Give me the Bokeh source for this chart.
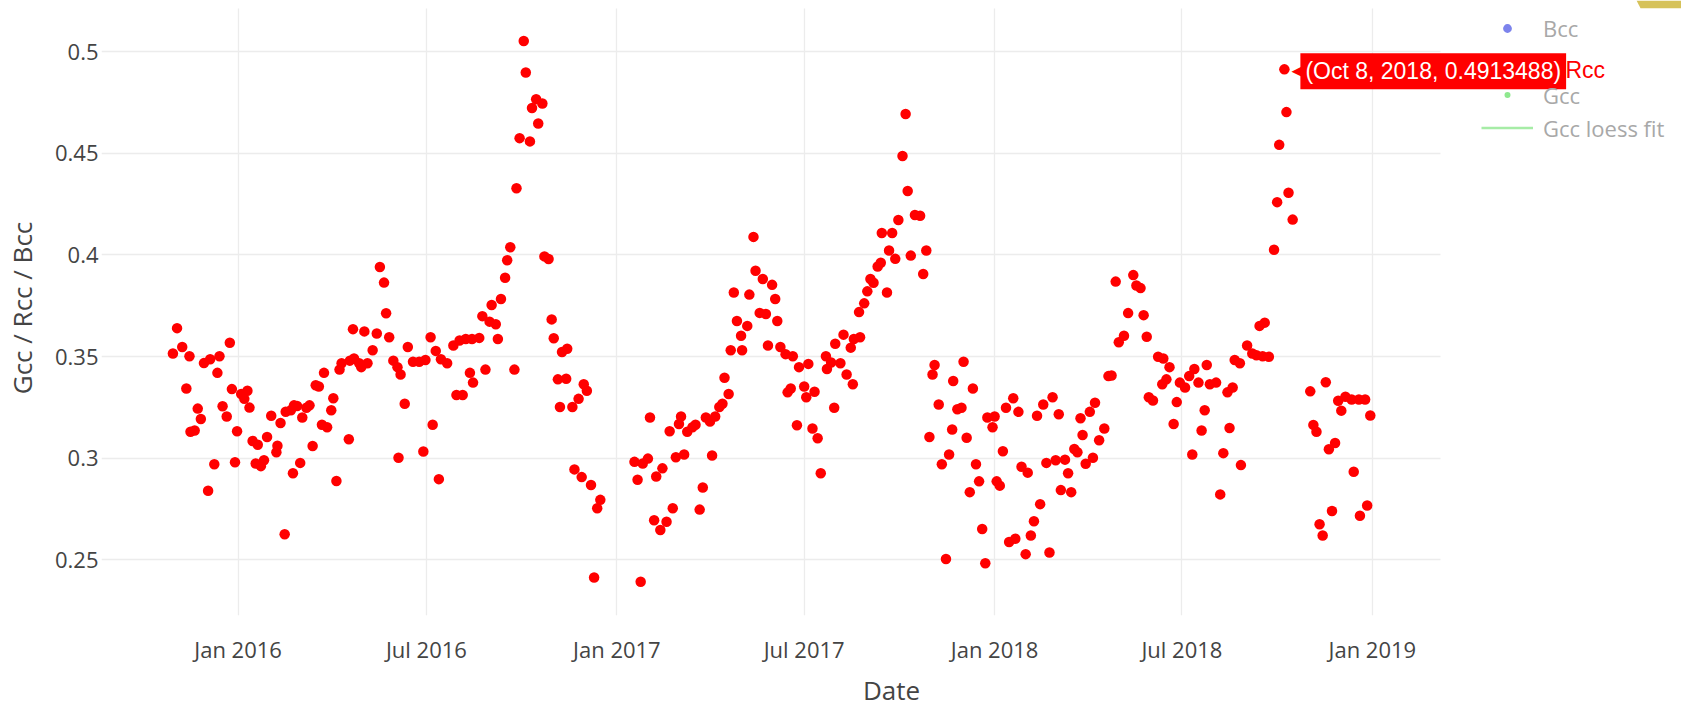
import pandas as pd
from bokeh.plotting import figure
from bokeh.models import (ColumnDataSource, FixedTicker, MonthsTicker, DatetimeTickFormatter,
                          Legend, LegendItem, Label, PolyAnnotation)
from bokeh.embed import file_html
from bokeh.resources import INLINE

# Rcc observation dates and values
dates = [
    "2015-10-30", "2015-11-03", "2015-11-08", "2015-11-12", "2015-11-15", "2015-11-16",
    "2015-11-20", "2015-11-23", "2015-11-26", "2015-11-29", "2015-12-03", "2015-12-05",
    "2015-12-09", "2015-12-12", "2015-12-14", "2015-12-17", "2015-12-21", "2015-12-24",
    "2015-12-26", "2015-12-29", "2015-12-31",
    "2016-01-04", "2016-01-07", "2016-01-10", "2016-01-12", "2016-01-15", "2016-01-18",
    "2016-01-20", "2016-01-23", "2016-01-26", "2016-01-29", "2016-02-02", "2016-02-07",
    "2016-02-08", "2016-02-11", "2016-02-15", "2016-02-16", "2016-02-21", "2016-02-23",
    "2016-02-24", "2016-02-27", "2016-03-01", "2016-03-03", "2016-03-07", "2016-03-10",
    "2016-03-13", "2016-03-16", "2016-03-19", "2016-03-22", "2016-03-24", "2016-03-27",
    "2016-03-31", "2016-04-02", "2016-04-05", "2016-04-08", "2016-04-10", "2016-04-17",
    "2016-04-18", "2016-04-21", "2016-04-22", "2016-04-27", "2016-04-29", "2016-05-02",
    "2016-05-05", "2016-05-10", "2016-05-14", "2016-05-17", "2016-05-21", "2016-05-23",
    "2016-05-26", "2016-05-30", "2016-06-03", "2016-06-04", "2016-06-06", "2016-06-10",
    "2016-06-13", "2016-06-18", "2016-06-24", "2016-06-28", "2016-06-30", "2016-07-05",
    "2016-07-07", "2016-07-10", "2016-07-13", "2016-07-15", "2016-07-21", "2016-07-27",
    "2016-07-30", "2016-08-02", "2016-08-05", "2016-08-08", "2016-08-12", "2016-08-14",
    "2016-08-15", "2016-08-21", "2016-08-24", "2016-08-27", "2016-08-31", "2016-09-02",
    "2016-09-06", "2016-09-08", "2016-09-11", "2016-09-15", "2016-09-17", "2016-09-20",
    "2016-09-24", "2016-09-26", "2016-09-29", "2016-10-03", "2016-10-05", "2016-10-09",
    "2016-10-11", "2016-10-15", "2016-10-17", "2016-10-21", "2016-10-23", "2016-10-27",
    "2016-10-30", "2016-11-01", "2016-11-05", "2016-11-07", "2016-11-09", "2016-11-13",
    "2016-11-14", "2016-11-19", "2016-11-21", "2016-11-25", "2016-11-28", "2016-11-30",
    "2016-12-03", "2016-12-07", "2016-12-10", "2016-12-13", "2016-12-16",
    "2017-01-18", "2017-01-21", "2017-01-24", "2017-01-26", "2017-01-31", "2017-02-02",
    "2017-02-06", "2017-02-08", "2017-02-12", "2017-02-14", "2017-02-18", "2017-02-21",
    "2017-02-24", "2017-02-27", "2017-03-02", "2017-03-04", "2017-03-07", "2017-03-10",
    "2017-03-15", "2017-03-18", "2017-03-22", "2017-03-25", "2017-03-28", "2017-04-01",
    "2017-04-03", "2017-04-06", "2017-04-10", "2017-04-13", "2017-04-15", "2017-04-19",
    "2017-04-21", "2017-04-24", "2017-04-27", "2017-05-01", "2017-05-02", "2017-05-07",
    "2017-05-09", "2017-05-13", "2017-05-15", "2017-05-19", "2017-05-22", "2017-05-25",
    "2017-05-27", "2017-05-31", "2017-06-03", "2017-06-05", "2017-06-08", "2017-06-13",
    "2017-06-15", "2017-06-18", "2017-06-20", "2017-06-24", "2017-06-26", "2017-07-01",
    "2017-07-03", "2017-07-05", "2017-07-09", "2017-07-11", "2017-07-14", "2017-07-17",
    "2017-07-22", "2017-07-23", "2017-07-27", "2017-07-30", "2017-07-31", "2017-08-05",
    "2017-08-08", "2017-08-11", "2017-08-15", "2017-08-17", "2017-08-18", "2017-08-23",
    "2017-08-24", "2017-08-28", "2017-08-31", "2017-09-03", "2017-09-06", "2017-09-10",
    "2017-09-13", "2017-09-14", "2017-09-19", "2017-09-21", "2017-09-24", "2017-09-27",
    "2017-09-30", "2017-10-04", "2017-10-07", "2017-10-09", "2017-10-12", "2017-10-16",
    "2017-10-21", "2017-10-24", "2017-10-27", "2017-10-30", "2017-11-02", "2017-11-04",
    "2017-11-08", "2017-11-11", "2017-11-15", "2017-11-18", "2017-11-21", "2017-11-22",
    "2017-11-26", "2017-11-30", "2017-12-02", "2017-12-05", "2017-12-08", "2017-12-11",
    "2017-12-14", "2017-12-17", "2017-12-20", "2017-12-23", "2017-12-25", "2017-12-30",
    "2018-01-01", "2018-01-03", "2018-01-06", "2018-01-09", "2018-01-12", "2018-01-15",
    "2018-01-19", "2018-01-21", "2018-01-24", "2018-01-27", "2018-01-31", "2018-02-02",
    "2018-02-05", "2018-02-08", "2018-02-11", "2018-02-14", "2018-02-17", "2018-02-20",
    "2018-02-23", "2018-02-26", "2018-03-01", "2018-03-04", "2018-03-06", "2018-03-10",
    "2018-03-13", "2018-03-16", "2018-03-19", "2018-03-22", "2018-03-25", "2018-03-27",
    "2018-03-30", "2018-04-03", "2018-04-06", "2018-04-08", "2018-04-12", "2018-04-17",
    "2018-04-21", "2018-04-24", "2018-04-28", "2018-05-01", "2018-05-06", "2018-05-10",
    "2018-05-15", "2018-05-18", "2018-05-22", "2018-05-25", "2018-05-28", "2018-05-30",
    "2018-06-03", "2018-06-08", "2018-06-12", "2018-06-13", "2018-06-16", "2018-06-19",
    "2018-06-23", "2018-06-26", "2018-06-29", "2018-07-04", "2018-07-08", "2018-07-11",
    "2018-07-13", "2018-07-17", "2018-07-20", "2018-07-23", "2018-07-25", "2018-07-28",
    "2018-08-03", "2018-08-07", "2018-08-10", "2018-08-14", "2018-08-16", "2018-08-19",
    "2018-08-21", "2018-08-26", "2018-08-27", "2018-09-02", "2018-09-07", "2018-09-11",
    "2018-09-14", "2018-09-17", "2018-09-19", "2018-09-23", "2018-09-28", "2018-10-01",
    "2018-10-03", "2018-10-08", "2018-10-10", "2018-10-12", "2018-10-16",
    "2018-11-02", "2018-11-05", "2018-11-08", "2018-11-11", "2018-11-14", "2018-11-17",
    "2018-11-20", "2018-11-23", "2018-11-26", "2018-11-29", "2018-12-02", "2018-12-06",
    "2018-12-12", "2018-12-14", "2018-12-19", "2018-12-20", "2018-12-25", "2018-12-27",
    "2018-12-30",
]

rcc = [
    0.3515, 0.3640, 0.3547, 0.3343, 0.3502, 0.3130,
    0.3136, 0.3244, 0.3193, 0.3468, 0.2840, 0.3487,
    0.2970, 0.3420, 0.3502, 0.3256, 0.3205, 0.3568,
    0.3340, 0.2980, 0.3133,
    0.3316, 0.3292, 0.3332, 0.3249, 0.3085, 0.2974,
    0.3066, 0.2961, 0.2990, 0.3104, 0.3209, 0.3029,
    0.3061, 0.3173, 0.2626, 0.3229, 0.3236, 0.2926,
    0.3260, 0.3257, 0.2977, 0.3200, 0.3248, 0.3260,
    0.3060, 0.3359, 0.3353, 0.3165, 0.3420, 0.3152,
    0.3236, 0.3295, 0.2888, 0.3436, 0.3467, 0.3093,
    0.3480, 0.3635, 0.3491, 0.3467, 0.3448, 0.3624,
    0.3467, 0.3531, 0.3614, 0.3941, 0.3864, 0.3713,
    0.3595, 0.3480, 0.3448, 0.3002, 0.3412, 0.3268,
    0.3547, 0.3475, 0.3475, 0.3033, 0.3483, 0.3595,
    0.3165, 0.3528, 0.2897, 0.3487, 0.3467, 0.3555,
    0.3311, 0.3579, 0.3311, 0.3587, 0.3420, 0.3587,
    0.3372, 0.3592, 0.3699, 0.3436, 0.3672, 0.3754,
    0.3659, 0.3587, 0.3783, 0.3888, 0.3974, 0.4038,
    0.3436, 0.4328, 0.4575, 0.5053, 0.4898, 0.4559,
    0.4723, 0.4766, 0.4647, 0.4745, 0.3993, 0.3980,
    0.3683, 0.3590, 0.3388, 0.3252, 0.3523, 0.3391,
    0.3539, 0.3252, 0.2945, 0.3292, 0.2907, 0.3364,
    0.3332, 0.2868, 0.2413, 0.2754, 0.2795,
    0.2982, 0.2894, 0.2392, 0.2974, 0.2998, 0.3200,
    0.2695, 0.2910, 0.2647, 0.2950, 0.2687, 0.3133,
    0.2754, 0.3005, 0.3168, 0.3205, 0.3018, 0.3130,
    0.3152, 0.3165, 0.2747, 0.2856, 0.3200, 0.3181,
    0.3013, 0.3205, 0.3252, 0.3268, 0.3396, 0.3316,
    0.3531, 0.3815, 0.3675, 0.3603, 0.3531, 0.3651,
    0.3805, 0.4089, 0.3922, 0.3715, 0.3882, 0.3710,
    0.3555, 0.3853, 0.3783, 0.3675, 0.3547, 0.3512,
    0.3324, 0.3343, 0.3502, 0.3162, 0.3448, 0.3353,
    0.3300, 0.3464, 0.3146, 0.3327, 0.3098, 0.2926,
    0.3502, 0.3439, 0.3471, 0.3248, 0.3563, 0.3467,
    0.3608, 0.3412, 0.3544, 0.3364, 0.3587, 0.3719,
    0.3595, 0.3762, 0.3821, 0.3882, 0.3863, 0.3943,
    0.3962, 0.4108, 0.3815, 0.4022, 0.4108, 0.3981,
    0.4172, 0.4487, 0.4694, 0.4315, 0.3997, 0.4197,
    0.4193, 0.3906, 0.4022, 0.3104, 0.3412, 0.3459,
    0.3264, 0.2970, 0.2504, 0.3018, 0.3141, 0.3380,
    0.3241, 0.3248, 0.3475, 0.3101, 0.2833, 0.3343,
    0.2970, 0.2886, 0.2652, 0.2483, 0.3200, 0.3152,
    0.3205, 0.2886, 0.2865, 0.3034, 0.3248, 0.2588,
    0.3295, 0.2604, 0.3228, 0.2958, 0.2528, 0.2929,
    0.2620, 0.2690, 0.3209, 0.2774, 0.3264, 0.2977,
    0.2536, 0.3300, 0.2990, 0.3216, 0.2843, 0.2993,
    0.2926, 0.2833, 0.3045, 0.3029, 0.3197, 0.3114,
    0.2973, 0.3228, 0.3002, 0.3273, 0.3088, 0.3146,
    0.3404, 0.3407, 0.3869, 0.3571, 0.3603, 0.3714,
    0.3901, 0.3850, 0.3837, 0.3704, 0.3598, 0.3300,
    0.3284, 0.3499, 0.3364, 0.3491, 0.3388, 0.3448,
    0.3168, 0.3276, 0.3372, 0.3348, 0.3404, 0.3018,
    0.3439, 0.3372, 0.3136, 0.3236, 0.3459, 0.3364,
    0.3372, 0.2822, 0.3025, 0.3324, 0.3149, 0.3348,
    0.3483, 0.3467, 0.2966, 0.3555, 0.3515, 0.3507,
    0.3651, 0.3502, 0.3667, 0.3499, 0.4026, 0.4260,
    0.4542, 0.4913488, 0.4703, 0.4306, 0.4174,
    0.3329, 0.3164, 0.3130, 0.2675, 0.2620, 0.3374,
    0.3044, 0.2740, 0.3075, 0.3283, 0.3234, 0.3302,
    0.3289, 0.2933, 0.3289, 0.2717, 0.3289, 0.2767,
    0.3210,
]

y_ticks = [0.25, 0.3, 0.35, 0.4, 0.45, 0.5]
y_tick_labels = ["0.25", "0.3", "0.35", "0.4", "0.45", "0.5"]
x_span = ("2015-08-22", "2019-03-08")
y_span = (0.2226, 0.5214)

hover_date = "2018-10-08"
hover_name = "Rcc"

TEXT = "#444444"
GRID = "#ececec"
NAN = float("nan")

# page geometry: the gridded area sits at x 100..1440, y 8..633; the drawing
# area is stretched to the right and top edges so the legend and readout fit
W, H = 1681, 710
GRID_L, GRID_R, GRID_T, GRID_B = 100, 1440, 8, 633

x0, x1 = pd.Timestamp(x_span[0]), pd.Timestamp(x_span[1])
x_far = x0 + (x1 - x0) * ((W - GRID_L) / (GRID_R - GRID_L))
y_top = y_span[1] + (y_span[1] - y_span[0]) * GRID_T / (GRID_B - GRID_T)


def page_to_data(px, py):
    """Convert a page pixel position to data coordinates (x in epoch ms)."""
    fx = (px - GRID_L) / (GRID_R - GRID_L)
    fy = (py - GRID_T) / (GRID_B - GRID_T)
    x = (x0 + (x1 - x0) * fx).value / 1e6
    y = y_span[1] - (y_span[1] - y_span[0]) * fy
    return x, y


src = ColumnDataSource(dict(date=pd.to_datetime(dates), rcc=rcc))

p = figure(width=W, height=H, x_axis_type="datetime",
           x_range=(x0, x_far), y_range=(y_span[0], y_top),
           output_backend="svg", toolbar_location=None,
           min_border_left=GRID_L, min_border_right=0, min_border_top=0,
           min_border_bottom=H - GRID_B)
p.outline_line_color = None
p.background_fill_color = "white"
p.border_fill_color = "white"

# axes
p.xaxis.ticker = MonthsTicker(months=[0, 6])
p.xaxis.formatter = DatetimeTickFormatter(days="%b %Y", months="%b %Y", years="%b %Y")
p.xaxis.bounds = (x0, x1)
p.yaxis.ticker = FixedTicker(ticks=y_ticks)
p.yaxis.major_label_overrides = dict(zip(y_ticks, y_tick_labels))
for ax in (p.xaxis, p.yaxis):
    ax.axis_line_color = None
    ax.major_tick_line_color = None
    ax.minor_tick_line_color = None
    ax.major_tick_out = 0
    ax.major_tick_in = 0
    ax.minor_tick_out = 0
    ax.major_label_text_font = "Open Sans"
    ax.major_label_text_font_size = "22px"
    ax.major_label_text_color = TEXT
    ax.axis_label_text_font = "Open Sans"
    ax.axis_label_text_font_size = "26px"
    ax.axis_label_text_font_style = "normal"
    ax.axis_label_text_color = TEXT
p.xaxis.axis_label = "Date"
p.yaxis.axis_label = "Gcc / Rcc / Bcc"
p.xaxis.major_label_standoff = 18
p.xaxis.axis_label_standoff = 5
p.yaxis.major_label_standoff = 3
p.yaxis.axis_label_standoff = 12

p.xgrid.grid_line_color = GRID
p.ygrid.grid_line_color = GRID
p.xgrid.grid_line_width = 1.3
p.ygrid.grid_line_width = 1.3
p.xgrid.cross_bounds = y_span
p.ygrid.cross_bounds = (x0.value / 1e6, x1.value / 1e6)

# series (Bcc, Gcc and the loess fit are switched off, only their legend entries show)
r_bcc = p.scatter(x=[NAN], y=[NAN], size=9, fill_color="#7c83ec", line_color=None)
r_rcc = p.scatter(x="date", y="rcc", source=src, size=10.5, fill_color="#ff0000", line_color=None)
r_gcc = p.scatter(x=[NAN], y=[NAN], size=6, fill_color="#8fe88f", line_color=None)
r_fit = p.line(x=[NAN, NAN], y=[NAN, NAN], line_color="#a6eca6", line_width=2.5)

# the Rcc row sits under the hover readout, so only the other entries are listed
legend_top = Legend(items=[LegendItem(label="Bcc", renderers=[r_bcc])],
                    location=(1380, 571), glyph_height=22, glyph_width=52, label_height=33)
legend_bot = Legend(items=[LegendItem(label="Gcc", renderers=[r_gcc]),
                           LegendItem(label="Gcc loess fit", renderers=[r_fit])],
                    location=(1380, 471), glyph_height=15, glyph_width=52, label_height=33)
for lg in (legend_top, legend_bot):
    lg.padding = 0
    lg.margin = 0
    lg.spacing = 0
    lg.label_standoff = 10
    lg.border_line_color = None
    lg.background_fill_alpha = 0
    lg.label_text_font = "Open Sans"
    lg.label_text_font_size = "22px"
    lg.label_text_color = "#a8a8a8"
    lg.click_policy = "none"
    p.add_layout(lg)

# hover readout for one point
i = dates.index(hover_date)
ts = pd.Timestamp(dates[i])
hx = ts.value // 10**6
hy = rcc[i]
p.add_layout(Label(x=hx, y=hy, x_offset=7, y_offset=-1, text="\u25c0",
                   text_font="DejaVu Sans", text_font_size="13px", text_color="#ff0000",
                   text_baseline="middle", text_align="left", level="overlay"))
p.add_layout(Label(x=hx, y=hy, x_offset=16, y_offset=-2,
                   text=f"({ts:%b} {ts.day}, {ts.year}, {hy})",
                   text_font="Liberation Sans", text_font_size="23px", text_color="white",
                   text_baseline="middle", text_align="left",
                   background_fill_color="#ff0000", padding=5, level="overlay"))
p.add_layout(Label(x=hx, y=hy, x_offset=281, y_offset=-1, text=hover_name,
                   text_font="Liberation Sans", text_font_size="23px", text_color="#ff0000",
                   text_baseline="middle", text_align="left", level="overlay"))

# corner of the page decoration
corner_px = [(1636, 0), (1681, 0), (1681, 8), (1640, 8)]
corner = [page_to_data(px, py) for px, py in corner_px]
p.add_layout(PolyAnnotation(xs=[c[0] for c in corner], ys=[c[1] for c in corner],
                            fill_color="#d6c25a", fill_alpha=1, line_color=None,
                            level="overlay"))

open("out.html", "w").write(file_html(p, INLINE))
